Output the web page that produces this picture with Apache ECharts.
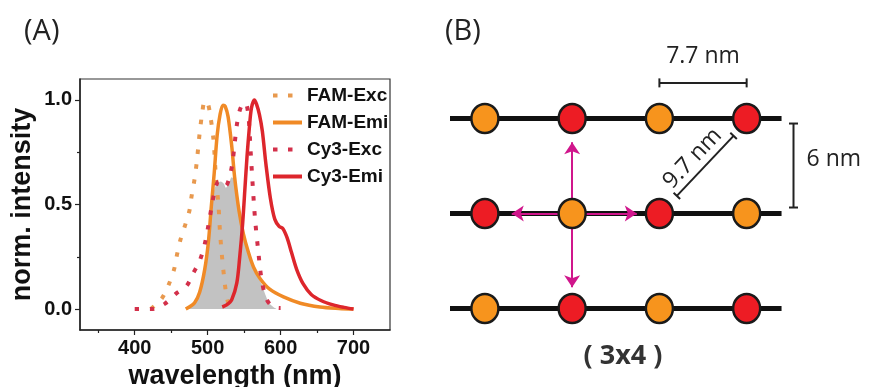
<!DOCTYPE html>
<html>
<head>
<meta charset="utf-8">
<title>FAM / Cy3 spectra and 3x4 array</title>
<script src="https://cdn.jsdelivr.net/npm/echarts@6.0.0/dist/echarts.min.js"></script>
<style>
  html, body { margin: 0; padding: 0; background: #fff; }
  #chart { width: 869px; height: 387px; }
</style>
</head>
<body>
<div id="chart"></div>
<script>
// ---- panel A: normalised spectra ----
const famExcX = [422, 437, 447, 454, 458, 463, 469, 475, 478, 482, 485, 487, 489, 493, 496, 500, 503, 508, 511, 515, 517, 521, 526, 531];
const famExcY = [0, 0.05, 0.12, 0.19, 0.26, 0.335, 0.40, 0.47, 0.54, 0.62, 0.70, 0.77, 0.84, 0.95, 0.995, 0.985, 0.94, 0.81, 0.65, 0.49, 0.365, 0.205, 0.06, 0];

const famEmiX = [470, 482, 489, 496, 501, 505, 509, 513, 517, 521, 524, 528, 533, 537, 543, 549, 556, 563, 572, 585, 604, 627, 654, 680, 700];
const famEmiY = [0, 0.03, 0.08, 0.19, 0.32, 0.49, 0.65, 0.83, 0.93, 0.975, 0.97, 0.92, 0.78, 0.63, 0.47, 0.36, 0.27, 0.20, 0.145, 0.095, 0.058, 0.028, 0.01, 0.003, 0];

const cy3ExcX = [400, 423, 441, 457, 471, 480, 489, 496, 501, 505, 510, 515, 520, 525, 530, 534, 537, 540, 544, 548, 552, 556, 559, 562, 565, 569, 574, 581, 590, 600];
const cy3ExcY = [0, 0, 0.025, 0.075, 0.11, 0.17, 0.23, 0.31, 0.40, 0.48, 0.57, 0.61, 0.61, 0.59, 0.63, 0.70, 0.79, 0.88, 0.95, 0.98, 0.985, 0.92, 0.75, 0.58, 0.43, 0.29, 0.14, 0.045, 0.01, 0.005];

const cy3EmiX = [520, 526, 533, 540, 544, 548, 551, 554, 557, 560, 564, 567, 571, 575, 580, 586, 592, 598, 603, 609, 615, 622, 631, 642, 656, 672, 687, 700];
const cy3EmiY = [0.01, 0.02, 0.045, 0.125, 0.25, 0.41, 0.57, 0.73, 0.86, 0.96, 1.0, 0.98, 0.93, 0.85, 0.69, 0.53, 0.43, 0.395, 0.385, 0.34, 0.27, 0.19, 0.12, 0.07, 0.04, 0.02, 0.008, 0];

// grey spectral overlap region
const overlapX = [470, 482, 489, 496, 501, 505, 509, 513, 518, 522, 525, 529, 533, 536, 539, 543, 549, 556, 563, 569, 574, 579, 584, 590, 595];
const overlapY = [0, 0.03, 0.08, 0.19, 0.32, 0.47, 0.57, 0.60, 0.61, 0.60, 0.58, 0.60, 0.63, 0.62, 0.56, 0.46, 0.35, 0.27, 0.20, 0.15, 0.12, 0.07, 0.03, 0.01, 0];

const xLabelTicks = [400, 500, 600, 700];
const xMinorTicks = [350, 450, 550, 650];
const yLabelTicks = [0, 0.5, 1.0];
const yMinorTicks = [0.25, 0.75];

// ---- panel B: 3x4 dye array (columns / rows in lattice units) ----
const colIdx = [0, 1, 2, 3];
const rowY = [2, 1, 0];
const rowDyes = [
  ['FAM', 'Cy3', 'FAM', 'Cy3'],
  ['Cy3', 'FAM', 'Cy3', 'FAM'],
  ['FAM', 'Cy3', 'FAM', 'Cy3']
];
const strandEnds = [-0.4, 3.4];
const arrowFrom = [1, 1];
const arrowTips = [[1, 1.75], [1, 0.224], [0.308, 1], [1.741, 1]];
const barLabels = ['7.7 nm', '6 nm', '9.7 nm'];
const barFrom = [[2, 2.375], [3.537, 1.947], [2.2, 1.185]];
const barTo = [[3, 2.375], [3.537, 1.063], [2.85, 1.817]];

const ARIAL = "Arial, 'Liberation Sans', sans-serif";
const OPEN = "'Open Sans', 'Noto Sans', sans-serif";
const dyeColor = { FAM: '#F7941D', Cy3: '#ED1C24' };
const labelPlace = [
  { dx: 0, dy: -26, align: 'center', rotate: false },
  { dx: 13, dy: -6, align: 'left', rotate: false },
  { dx: -12.7, dy: -7.4, align: 'center', rotate: true }
];

const pairs = (xs, ys) => xs.map((x, i) => [x, ys[i]]);

const dots = [];
rowY.forEach((r, ri) => {
  colIdx.forEach((c, ci) => {
    dots.push({ value: [c, r], itemStyle: { color: dyeColor[rowDyes[ri][ci]] } });
  });
});

const chart = echarts.init(document.getElementById('chart'), null, { renderer: 'canvas' });

const specLine = (name, xs, ys, color, dotted) => ({
  name: name,
  type: 'line',
  xAxisIndex: 0,
  yAxisIndex: 0,
  data: pairs(xs, ys),
  symbol: 'none',
  smooth: 0.3,
  z: 3,
  lineStyle: dotted
    ? { color: color, width: 4, type: [4.5, 10.5] }
    : { color: color, width: 3.5 },
  itemStyle: { color: color }
});

const option = {
  animation: false,
  backgroundColor: '#fff',
  title: [
    { text: '(A)', left: 19, top: 12, textStyle: { fontFamily: OPEN, fontSize: 29, fontWeight: 'normal', color: '#222' } },
    { text: '(B)', left: 440, top: 12, textStyle: { fontFamily: OPEN, fontSize: 29, fontWeight: 'normal', color: '#222' } },
    { text: '( 3x4 )', left: 618, top: 338, textAlign: 'center', textStyle: { fontFamily: OPEN, fontSize: 27, fontWeight: 'bold', color: '#333' } }
  ],
  legend: {
    orient: 'vertical',
    left: 271,
    top: 86,
    padding: 0,
    itemWidth: 29,
    itemHeight: 14,
    itemGap: 8,
    selectedMode: false,
    itemStyle: { opacity: 0 },
    lineStyle: { width: 4 },
    data: ['FAM-Exc', 'FAM-Emi', 'Cy3-Exc', 'Cy3-Emi'],
    textStyle: { fontFamily: ARIAL, fontSize: 19, fontWeight: 'bold', color: '#111' }
  },
  grid: [
    { left: 80, top: 79, width: 310, height: 251, show: true, borderColor: '#333', borderWidth: 1.2, outerBoundsMode: 'none' },
    { left: 450, top: 71, width: 349, height: 285, outerBoundsMode: 'none' }
  ],
  xAxis: [
    {
      gridIndex: 0, type: 'value', min: 325, max: 750, position: 'bottom',
      axisLine: { onZero: false, lineStyle: { color: '#222', width: 1.5 } },
      axisTick: { show: true, customValues: xLabelTicks, length: 5, lineStyle: { color: '#222', width: 1.2 } },
      axisLabel: { customValues: xLabelTicks, margin: 8, fontFamily: ARIAL, fontSize: 20, fontWeight: 'bold', color: '#111' },
      splitLine: { show: false },
      name: 'wavelength (nm)', nameLocation: 'middle', nameGap: 25,
      nameTextStyle: { fontFamily: ARIAL, fontSize: 27, fontWeight: 'bold', color: '#111' }
    },
    {
      gridIndex: 0, type: 'value', min: 325, max: 750, position: 'bottom',
      axisLine: { show: false, onZero: false },
      axisTick: { show: true, customValues: xMinorTicks, length: 3, lineStyle: { color: '#222', width: 1.2 } },
      axisLabel: { show: false },
      splitLine: { show: false }
    },
    { gridIndex: 1, type: 'value', min: -0.4, max: 3.6, show: false }
  ],
  yAxis: [
    {
      gridIndex: 0, type: 'value', min: -0.1, max: 1.1, position: 'left',
      axisLine: { show: true, onZero: false, lineStyle: { color: '#222', width: 1.5 } },
      axisTick: { show: true, customValues: yLabelTicks, length: 5, lineStyle: { color: '#222', width: 1.2 } },
      axisLabel: { customValues: yLabelTicks, margin: 8, formatter: v => v.toFixed(1), fontFamily: ARIAL, fontSize: 20, fontWeight: 'bold', color: '#111' },
      splitLine: { show: false },
      name: 'norm. intensity', nameLocation: 'middle', nameGap: 44,
      nameTextStyle: { fontFamily: ARIAL, fontSize: 27, fontWeight: 'bold', color: '#111' }
    },
    {
      gridIndex: 0, type: 'value', min: -0.1, max: 1.1, position: 'left', offset: 0,
      axisLine: { show: false, onZero: false },
      axisTick: { show: true, customValues: yMinorTicks, length: 3, lineStyle: { color: '#222', width: 1.2 } },
      axisLabel: { show: false },
      splitLine: { show: false }
    },
    { gridIndex: 1, type: 'value', min: -0.5, max: 2.5, show: false }
  ],
  series: [
    {
      name: 'overlap', type: 'line', xAxisIndex: 0, yAxisIndex: 0,
      data: pairs(overlapX, overlapY), symbol: 'none', smooth: 0.3,
      lineStyle: { width: 0 }, areaStyle: { color: '#c2c2c2', opacity: 1 }, z: 1, silent: true
    },
    specLine('FAM-Exc', famExcX, famExcY, '#E8994E', true),
    specLine('FAM-Emi', famEmiX, famEmiY, '#F08A26', false),
    specLine('Cy3-Exc', cy3ExcX, cy3ExcY, '#D3304A', true),
    specLine('Cy3-Emi', cy3EmiX, cy3EmiY, '#DD262C', false),

    // panel B
    {
      type: 'lines', coordinateSystem: 'cartesian2d', xAxisIndex: 2, yAxisIndex: 2,
      data: rowY.map(r => ({ coords: [[strandEnds[0], r], [strandEnds[1], r]] })),
      lineStyle: { color: '#111', width: 5, opacity: 1, curveness: 0 },
      symbol: 'none', z: 1, silent: true
    },
    {
      type: 'lines', coordinateSystem: 'cartesian2d', xAxisIndex: 2, yAxisIndex: 2,
      data: arrowTips.map(t => ({ coords: [arrowFrom, t] })),
      lineStyle: { color: '#D0168C', width: 2, opacity: 1, curveness: 0 },
      symbol: ['none', 'arrow'], symbolSize: [11, 12], z: 2, silent: true
    },
    {
      type: 'scatter', xAxisIndex: 2, yAxisIndex: 2,
      data: dots, symbol: 'circle', symbolSize: [27, 29],
      itemStyle: { borderColor: '#1a1a1a', borderWidth: 2.5, opacity: 1 },
      z: 3, silent: true
    },
    {
      type: 'custom', coordinateSystem: 'cartesian2d', xAxisIndex: 2, yAxisIndex: 2,
      data: barLabels.map((l, i) => [barFrom[i][0], barFrom[i][1], barTo[i][0], barTo[i][1], i]),
      encode: { x: [0, 2], y: [1, 3] },
      z: 2, silent: true,
      renderItem: function (params, api) {
        const i = api.value(4);
        const p1 = api.coord([api.value(0), api.value(1)]);
        const p2 = api.coord([api.value(2), api.value(3)]);
        const dx = p2[0] - p1[0], dy = p2[1] - p1[1];
        const len = Math.sqrt(dx * dx + dy * dy);
        const nx = -dy / len * 4.5, ny = dx / len * 4.5;
        const st = { stroke: '#222', lineWidth: 2 };
        const place = labelPlace[i];
        const mx = (p1[0] + p2[0]) / 2, my = (p1[1] + p2[1]) / 2;
        let rot = 0;
        if (place.rotate) rot = Math.atan2(p1[1] - p2[1], p2[0] - p1[0]);
        return {
          type: 'group',
          children: [
            { type: 'line', shape: { x1: p1[0], y1: p1[1], x2: p2[0], y2: p2[1] }, style: st },
            { type: 'line', shape: { x1: p1[0] - nx, y1: p1[1] - ny, x2: p1[0] + nx, y2: p1[1] + ny }, style: st },
            { type: 'line', shape: { x1: p2[0] - nx, y1: p2[1] - ny, x2: p2[0] + nx, y2: p2[1] + ny }, style: st },
            {
              type: 'text', x: mx + place.dx, y: my + place.dy, rotation: rot,
              style: {
                text: barLabels[i], align: place.align, verticalAlign: 'middle',
                fill: '#222', font: "23px 'Open Sans', 'Noto Sans', sans-serif"
              }
            }
          ]
        };
      }
    }
  ]
};

chart.setOption(option);
window.addEventListener('resize', chart.resize);
</script>
</body>
</html>
